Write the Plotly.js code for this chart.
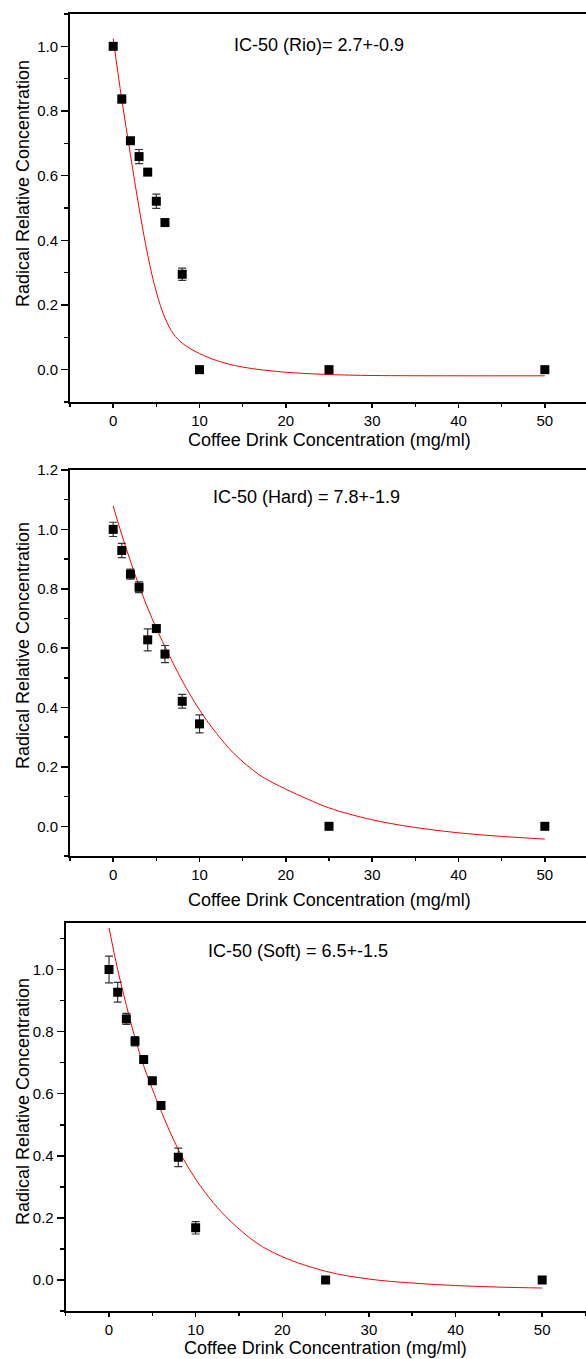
<!DOCTYPE html>
<html>
<head>
<meta charset="utf-8">
<script src="https://cdn.plot.ly/plotly-3.0.1.min.js"></script>
<style>
  html, body { margin: 0; padding: 0; overflow: hidden; background: #fff; }
  #chart { width: 590px; height: 1359px; }
</style>
</head>
<body>
<div id="chart"></div>
<script>
// ---------- data ----------
const conc = [0, 1, 2, 3, 4, 5, 6, 8, 10, 25, 50];

const rioY   = [1.0, 0.837, 0.708, 0.659, 0.611, 0.521, 0.455, 0.295, 0.0, 0.0, 0.0];
const rioErr = [0.005, 0.012, 0.008, 0.022, 0.005, 0.022, 0.005, 0.019, 0, 0, 0];

const hardY   = [1.0, 0.929, 0.849, 0.805, 0.628, 0.666, 0.580, 0.421, 0.345, 0.0, 0.0];
const hardErr = [0.024, 0.024, 0.017, 0.018, 0.037, 0.008, 0.029, 0.023, 0.030, 0, 0];

const softY   = [1.0, 0.927, 0.841, 0.769, 0.710, 0.642, 0.562, 0.395, 0.168, 0.0, 0.0];
const softErr = [0.043, 0.032, 0.018, 0.015, 0.006, 0.010, 0.004, 0.030, 0.020, 0, 0];

// fitted curves
const rioFitX = [0, 1, 2, 3, 4, 5, 6, 7, 8, 9, 10, 12, 15, 20, 25, 30, 40, 50];
const rioFitY = [1.024, 0.835, 0.665, 0.50, 0.355, 0.24, 0.16, 0.11, 0.082, 0.064, 0.05, 0.028, 0.008, -0.008, -0.015, -0.018, -0.019, -0.019];

const hardFitX = [0, 1, 2, 3, 4, 5, 6, 8, 10, 12, 14, 17, 20, 22.5, 25, 30, 35, 40, 45, 50];
const hardFitY = [1.079, 0.982, 0.893, 0.810, 0.735, 0.667, 0.605, 0.49, 0.392, 0.312, 0.245, 0.172, 0.125, 0.092, 0.062, 0.022, -0.004, -0.022, -0.034, -0.043];

const softFitX = [0, 1, 2, 3, 4, 5, 6, 8, 10, 12, 14, 17, 20, 25, 30, 35, 40, 45, 50];
const softFitY = [1.134, 1.0, 0.885, 0.78, 0.69, 0.615, 0.545, 0.42, 0.325, 0.25, 0.19, 0.12, 0.075, 0.028, 0.003, -0.01, -0.018, -0.023, -0.026];

const icLabels = ["IC-50 (Rio)= 2.7+-0.9", "IC-50 (Hard) = 7.8+-1.9", "IC-50 (Soft) = 6.5+-1.5"];
const xTitle = "Coffee Drink Concentration (mg/ml)";
const yTitle = "Radical Relative Concentration";

// ---------- layout geometry (pixels) ----------
const W = 590, H = 1359;
const FONT = "Liberation Sans, Arial, sans-serif";
const panels = [
  {x0: 70,   x1: 588,   top: 14,  bot: 402,  yr: [-0.1, 1.1],  yT: 184,  xT: 440,  xAnch: 'middle', ic: [319, 45]},
  {x0: 70,   x1: 588,   top: 470, bot: 856,  yr: [-0.1, 1.2],  yT: 646,  xT: 900,  xAnch: 'middle', ic: [306, 497]},
  {x0: 65.7, x1: 585.5, top: 923, bot: 1311, yr: [-0.1, 1.15], yT: 1102, xT: 1359, xAnch: 'bottom', ic: [298, 951]}
];
const series = [
  {y: rioY, err: rioErr, fx: rioFitX, fy: rioFitY},
  {y: hardY, err: hardErr, fx: hardFitX, fy: hardFitY},
  {y: softY, err: softErr, fx: softFitX, fy: softFitY}
];

const traces = [];
const layout = {
  width: W, height: H,
  margin: {l: 0, r: 0, t: 0, b: 0},
  paper_bgcolor: '#fff', plot_bgcolor: '#fff',
  showlegend: false,
  font: {family: FONT, color: '#000'},
  annotations: []
};

panels.forEach((p, i) => {
  const n = i === 0 ? '' : String(i + 1);
  const xa = 'x' + n, ya = 'y' + n;
  layout['xaxis' + n] = {
    domain: [p.x0 / W, p.x1 / W],
    anchor: ya,
    range: [-5, 55],
    tick0: 0, dtick: 10,
    ticks: 'outside', ticklen: 4, tickwidth: 1.5, tickcolor: '#000',
    minor: {dtick: 5, ticks: 'outside', ticklen: 3, tickwidth: 1.5, tickcolor: '#000', showgrid: false},
    showline: true, linewidth: 2, linecolor: '#000', mirror: true,
    showgrid: false, zeroline: false,
    tickfont: {family: FONT, size: 15, color: '#000'}
  };
  layout['yaxis' + n] = {
    domain: [1 - p.bot / H, 1 - p.top / H],
    anchor: xa,
    range: p.yr,
    tick0: 0, dtick: 0.2, tickformat: '.1f',
    ticks: 'outside', ticklen: 7, tickwidth: 1.5, tickcolor: '#000',
    minor: {dtick: 0.1, ticks: 'outside', ticklen: 4, tickwidth: 1.5, tickcolor: '#000', showgrid: false},
    showline: true, linewidth: 2, linecolor: '#000', mirror: true,
    showgrid: false, zeroline: false,
    tickfont: {family: FONT, size: 15, color: '#000'}
  };
  const s = series[i];
  traces.push({
    x: s.fx, y: s.fy, xaxis: xa, yaxis: ya,
    type: 'scatter', mode: 'lines',
    line: {color: '#ff0000', width: 1, shape: 'spline', smoothing: 1},
    hoverinfo: 'skip'
  });
  traces.push({
    x: conc, y: s.y, xaxis: xa, yaxis: ya,
    type: 'scatter', mode: 'markers',
    marker: {symbol: 'square', size: 9, color: '#000'},
    error_y: {type: 'data', array: s.err, visible: true, color: '#333', thickness: 1.2, width: 4}
  });
  layout.annotations.push({
    text: icLabels[i], xref: 'paper', yref: 'paper',
    x: p.ic[0] / W, y: 1 - p.ic[1] / H, xanchor: 'center', yanchor: 'middle',
    showarrow: false, font: {family: FONT, size: 18, color: '#000'}
  });
  layout.annotations.push({
    text: xTitle, xref: 'paper', yref: 'paper',
    x: ((p.x0 + p.x1) / 2) / W, y: 1 - p.xT / H, xanchor: 'center', yanchor: p.xAnch,
    showarrow: false, borderpad: 0, font: {family: FONT, size: 18, color: '#000'}
  });
  layout.annotations.push({
    text: yTitle, xref: 'paper', yref: 'paper', textangle: -90,
    x: 23 / W, y: 1 - p.yT / H, xanchor: 'center', yanchor: 'middle',
    showarrow: false, font: {family: FONT, size: 18, color: '#000'}
  });
});

Plotly.newPlot('chart', traces, layout, {displayModeBar: false, staticPlot: true});
</script>
</body>
</html>
